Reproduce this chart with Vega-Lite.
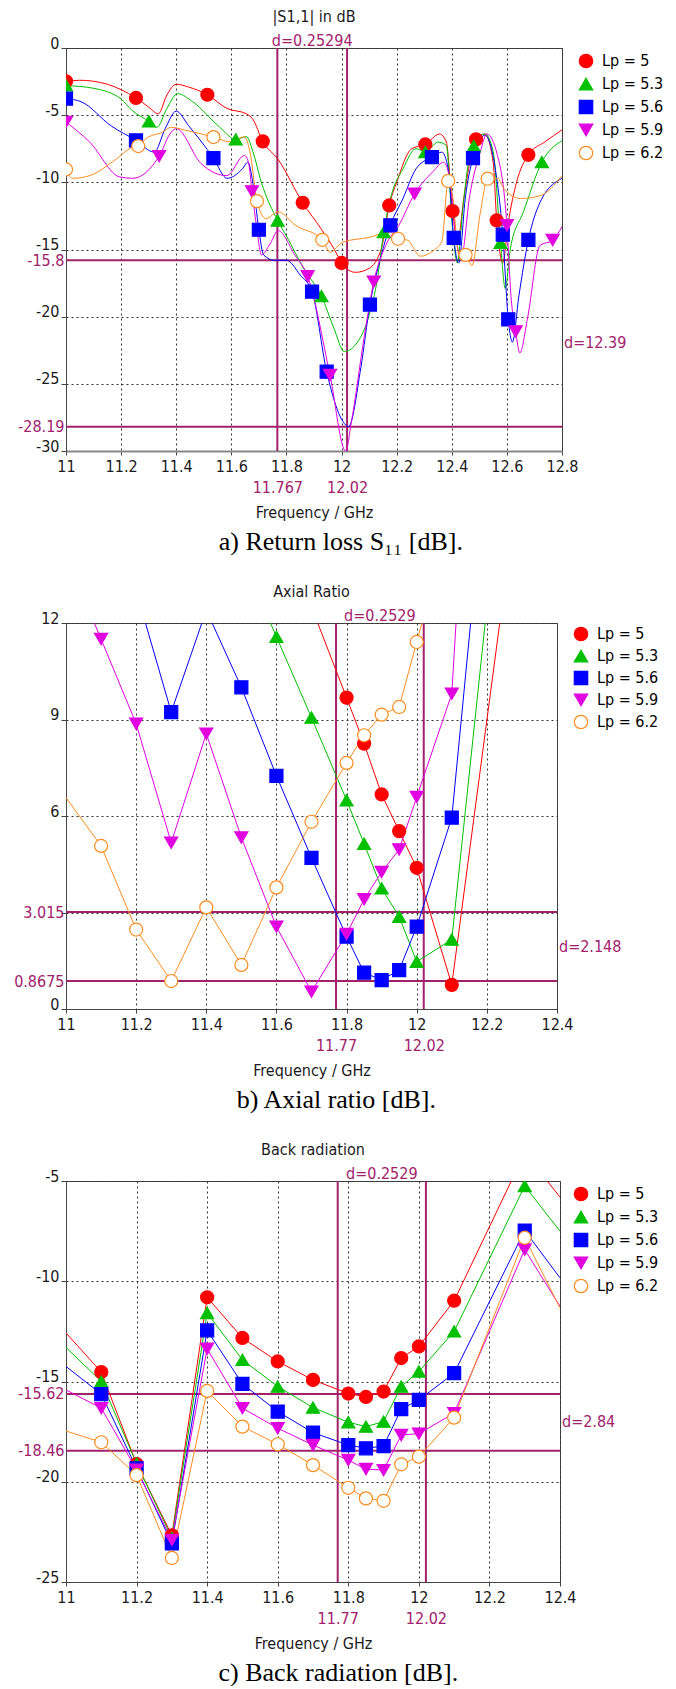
{
"$schema": "https://vega.github.io/schema/vega-lite/v6.json",
"background": "white",
"padding": {"left": 13, "top": 8, "right": 0, "bottom": 0},
"spacing": 28,
"config": {
  "font": "DejaVu Sans Condensed, DejaVu Sans",
  "view": {"stroke": "#444", "strokeWidth": 1},
  "axis": {"labelFont": "DejaVu Sans Condensed, DejaVu Sans", "titleFont": "DejaVu Sans Condensed, DejaVu Sans", "labelFontSize": 16, "titleFontSize": 16, "labelColor": "#1a1a1a", "titleColor": "#1a1a1a", "titleFontWeight": "normal", "tickColor": "#444", "domainColor": "#444", "gridColor": "#333", "gridDash": [2, 3], "gridOpacity": 1, "gridWidth": 1},
  "legend": {"labelFont": "DejaVu Sans Condensed, DejaVu Sans", "labelFontSize": 16},
  "title": {"font": "DejaVu Sans Condensed, DejaVu Sans", "fontSize": 16, "fontWeight": "normal", "color": "#1a1a1a"},
  "text": {"font": "DejaVu Sans Condensed, DejaVu Sans", "fontSize": 16, "color": "#a1216b"}
},
"resolve": {"scale": {"color": "independent", "stroke": "independent", "fill": "independent", "shape": "independent"}},
"datasets": {
  "aL": [
    {"s":"Lp = 5","f":11.0,"v":-2.5},{"s":"Lp = 5","f":11.05,"v":-2.4},{"s":"Lp = 5","f":11.15,"v":-2.7},{"s":"Lp = 5","f":11.2,"v":-3.1},{"s":"Lp = 5","f":11.254,"v":-3.72},{"s":"Lp = 5","f":11.3,"v":-4.4},{"s":"Lp = 5","f":11.335,"v":-4.9},{"s":"Lp = 5","f":11.366,"v":-3.5},{"s":"Lp = 5","f":11.4,"v":-2.7},{"s":"Lp = 5","f":11.444,"v":-2.9},{"s":"Lp = 5","f":11.513,"v":-3.48},{"s":"Lp = 5","f":11.584,"v":-4.5},{"s":"Lp = 5","f":11.655,"v":-4.9},{"s":"Lp = 5","f":11.678,"v":-5.3},{"s":"Lp = 5","f":11.714,"v":-6.95},{"s":"Lp = 5","f":11.77,"v":-8.3},{"s":"Lp = 5","f":11.859,"v":-11.52},{"s":"Lp = 5","f":11.927,"v":-13.5},{"s":"Lp = 5","f":11.974,"v":-15.0},{"s":"Lp = 5","f":12.0,"v":-16.0},{"s":"Lp = 5","f":12.05,"v":-16.7},{"s":"Lp = 5","f":12.1,"v":-16.4},{"s":"Lp = 5","f":12.145,"v":-14.9},{"s":"Lp = 5","f":12.173,"v":-11.72},{"s":"Lp = 5","f":12.2,"v":-10.0},{"s":"Lp = 5","f":12.254,"v":-7.5},{"s":"Lp = 5","f":12.304,"v":-7.18},{"s":"Lp = 5","f":12.356,"v":-6.4},{"s":"Lp = 5","f":12.38,"v":-7.0},{"s":"Lp = 5","f":12.403,"v":-12.14},{"s":"Lp = 5","f":12.42,"v":-14.5},{"s":"Lp = 5","f":12.445,"v":-11.0},{"s":"Lp = 5","f":12.488,"v":-6.8},{"s":"Lp = 5","f":12.52,"v":-6.4},{"s":"Lp = 5","f":12.55,"v":-8.5},{"s":"Lp = 5","f":12.563,"v":-12.84},{"s":"Lp = 5","f":12.585,"v":-16.0},{"s":"Lp = 5","f":12.605,"v":-13.0},{"s":"Lp = 5","f":12.635,"v":-10.0},{"s":"Lp = 5","f":12.678,"v":-7.95},{"s":"Lp = 5","f":12.737,"v":-7.0},{"s":"Lp = 5","f":12.8,"v":-6.1},
    {"s":"Lp = 5.3","f":11.0,"v":-2.8},{"s":"Lp = 5.3","f":11.1,"v":-3.0},{"s":"Lp = 5.3","f":11.2,"v":-3.8},{"s":"Lp = 5.3","f":11.24,"v":-4.65},{"s":"Lp = 5.3","f":11.301,"v":-5.46},{"s":"Lp = 5.3","f":11.33,"v":-5.9},{"s":"Lp = 5.3","f":11.366,"v":-4.5},{"s":"Lp = 5.3","f":11.405,"v":-3.4},{"s":"Lp = 5.3","f":11.46,"v":-4.0},{"s":"Lp = 5.3","f":11.553,"v":-5.8},{"s":"Lp = 5.3","f":11.616,"v":-6.8},{"s":"Lp = 5.3","f":11.655,"v":-6.6},{"s":"Lp = 5.3","f":11.678,"v":-7.7},{"s":"Lp = 5.3","f":11.709,"v":-10.0},{"s":"Lp = 5.3","f":11.768,"v":-12.84},{"s":"Lp = 5.3","f":11.8,"v":-14.0},{"s":"Lp = 5.3","f":11.865,"v":-16.5},{"s":"Lp = 5.3","f":11.927,"v":-18.47},{"s":"Lp = 5.3","f":11.973,"v":-20.9},{"s":"Lp = 5.3","f":12.01,"v":-22.6},{"s":"Lp = 5.3","f":12.05,"v":-22.1},{"s":"Lp = 5.3","f":12.1,"v":-19.9},{"s":"Lp = 5.3","f":12.13,"v":-17.2},{"s":"Lp = 5.3","f":12.153,"v":-13.7},{"s":"Lp = 5.3","f":12.18,"v":-11.0},{"s":"Lp = 5.3","f":12.223,"v":-9.0},{"s":"Lp = 5.3","f":12.27,"v":-7.5},{"s":"Lp = 5.3","f":12.304,"v":-7.75},{"s":"Lp = 5.3","f":12.35,"v":-7.0},{"s":"Lp = 5.3","f":12.38,"v":-7.25},{"s":"Lp = 5.3","f":12.403,"v":-13.5},{"s":"Lp = 5.3","f":12.42,"v":-16.0},{"s":"Lp = 5.3","f":12.44,"v":-12.0},{"s":"Lp = 5.3","f":12.457,"v":-9.0},{"s":"Lp = 5.3","f":12.48,"v":-7.3},{"s":"Lp = 5.3","f":12.52,"v":-6.4},{"s":"Lp = 5.3","f":12.55,"v":-7.7},{"s":"Lp = 5.3","f":12.577,"v":-14.5},{"s":"Lp = 5.3","f":12.594,"v":-17.9},{"s":"Lp = 5.3","f":12.613,"v":-14.9},{"s":"Lp = 5.3","f":12.66,"v":-12.2},{"s":"Lp = 5.3","f":12.727,"v":-8.49},{"s":"Lp = 5.3","f":12.8,"v":-6.9},
    {"s":"Lp = 5.6","f":11.0,"v":-3.77},{"s":"Lp = 5.6","f":11.055,"v":-4.0},{"s":"Lp = 5.6","f":11.164,"v":-5.8},{"s":"Lp = 5.6","f":11.254,"v":-6.88},{"s":"Lp = 5.6","f":11.32,"v":-7.75},{"s":"Lp = 5.6","f":11.36,"v":-6.0},{"s":"Lp = 5.6","f":11.4,"v":-4.7},{"s":"Lp = 5.6","f":11.444,"v":-5.76},{"s":"Lp = 5.6","f":11.535,"v":-8.19},{"s":"Lp = 5.6","f":11.584,"v":-9.7},{"s":"Lp = 5.6","f":11.64,"v":-9.0},{"s":"Lp = 5.6","f":11.66,"v":-8.5},{"s":"Lp = 5.6","f":11.678,"v":-10.0},{"s":"Lp = 5.6","f":11.7,"v":-13.53},{"s":"Lp = 5.6","f":11.717,"v":-15.4},{"s":"Lp = 5.6","f":11.756,"v":-15.8},{"s":"Lp = 5.6","f":11.8,"v":-15.8},{"s":"Lp = 5.6","f":11.85,"v":-16.9},{"s":"Lp = 5.6","f":11.893,"v":-18.14},{"s":"Lp = 5.6","f":11.946,"v":-24.1},{"s":"Lp = 5.6","f":12.005,"v":-27.8},{"s":"Lp = 5.6","f":12.025,"v":-28.19},{"s":"Lp = 5.6","f":12.07,"v":-23.8},{"s":"Lp = 5.6","f":12.103,"v":-19.1},{"s":"Lp = 5.6","f":12.138,"v":-15.9},{"s":"Lp = 5.6","f":12.177,"v":-13.2},{"s":"Lp = 5.6","f":12.223,"v":-11.2},{"s":"Lp = 5.6","f":12.27,"v":-9.0},{"s":"Lp = 5.6","f":12.328,"v":-8.12},{"s":"Lp = 5.6","f":12.364,"v":-7.75},{"s":"Lp = 5.6","f":12.387,"v":-9.0},{"s":"Lp = 5.6","f":12.407,"v":-14.13},{"s":"Lp = 5.6","f":12.425,"v":-16.0},{"s":"Lp = 5.6","f":12.45,"v":-11.0},{"s":"Lp = 5.6","f":12.477,"v":-8.19},{"s":"Lp = 5.6","f":12.52,"v":-6.5},{"s":"Lp = 5.6","f":12.558,"v":-9.0},{"s":"Lp = 5.6","f":12.585,"v":-13.9},{"s":"Lp = 5.6","f":12.605,"v":-20.2},{"s":"Lp = 5.6","f":12.62,"v":-21.9},{"s":"Lp = 5.6","f":12.644,"v":-18.4},{"s":"Lp = 5.6","f":12.678,"v":-14.28},{"s":"Lp = 5.6","f":12.72,"v":-11.5},{"s":"Lp = 5.6","f":12.8,"v":-9.7},
    {"s":"Lp = 5.9","f":11.0,"v":-5.51},{"s":"Lp = 5.9","f":11.086,"v":-7.0},{"s":"Lp = 5.9","f":11.195,"v":-9.6},{"s":"Lp = 5.9","f":11.242,"v":-9.7},{"s":"Lp = 5.9","f":11.338,"v":-8.05},{"s":"Lp = 5.9","f":11.382,"v":-6.26},{"s":"Lp = 5.9","f":11.4,"v":-6.0},{"s":"Lp = 5.9","f":11.49,"v":-8.6},{"s":"Lp = 5.9","f":11.584,"v":-9.5},{"s":"Lp = 5.9","f":11.647,"v":-8.0},{"s":"Lp = 5.9","f":11.662,"v":-8.5},{"s":"Lp = 5.9","f":11.675,"v":-10.68},{"s":"Lp = 5.9","f":11.693,"v":-13.5},{"s":"Lp = 5.9","f":11.709,"v":-15.4},{"s":"Lp = 5.9","f":11.74,"v":-14.6},{"s":"Lp = 5.9","f":11.77,"v":-13.6},{"s":"Lp = 5.9","f":11.83,"v":-15.4},{"s":"Lp = 5.9","f":11.877,"v":-17.0},{"s":"Lp = 5.9","f":11.958,"v":-24.35},{"s":"Lp = 5.9","f":12.015,"v":-30.0},{"s":"Lp = 5.9","f":12.036,"v":-27.8},{"s":"Lp = 5.9","f":12.083,"v":-21.4},{"s":"Lp = 5.9","f":12.117,"v":-17.4},{"s":"Lp = 5.9","f":12.16,"v":-14.7},{"s":"Lp = 5.9","f":12.208,"v":-13.2},{"s":"Lp = 5.9","f":12.265,"v":-10.85},{"s":"Lp = 5.9","f":12.332,"v":-9.2},{"s":"Lp = 5.9","f":12.37,"v":-8.5},{"s":"Lp = 5.9","f":12.395,"v":-10.0},{"s":"Lp = 5.9","f":12.418,"v":-14.5},{"s":"Lp = 5.9","f":12.435,"v":-15.5},{"s":"Lp = 5.9","f":12.465,"v":-11.0},{"s":"Lp = 5.9","f":12.504,"v":-7.7},{"s":"Lp = 5.9","f":12.527,"v":-6.4},{"s":"Lp = 5.9","f":12.566,"v":-8.0},{"s":"Lp = 5.9","f":12.6,"v":-13.2},{"s":"Lp = 5.9","f":12.615,"v":-18.5},{"s":"Lp = 5.9","f":12.632,"v":-21.1},{"s":"Lp = 5.9","f":12.647,"v":-22.7},{"s":"Lp = 5.9","f":12.675,"v":-20.1},{"s":"Lp = 5.9","f":12.72,"v":-14.7},{"s":"Lp = 5.9","f":12.766,"v":-14.3},{"s":"Lp = 5.9","f":12.8,"v":-13.3},
    {"s":"Lp = 6.2","f":11.0,"v":-9.04},{"s":"Lp = 6.2","f":11.023,"v":-9.7},{"s":"Lp = 6.2","f":11.086,"v":-9.5},{"s":"Lp = 6.2","f":11.18,"v":-8.3},{"s":"Lp = 6.2","f":11.24,"v":-7.4},{"s":"Lp = 6.2","f":11.262,"v":-7.3},{"s":"Lp = 6.2","f":11.29,"v":-6.75},{"s":"Lp = 6.2","f":11.35,"v":-6.26},{"s":"Lp = 6.2","f":11.382,"v":-5.9},{"s":"Lp = 6.2","f":11.43,"v":-6.1},{"s":"Lp = 6.2","f":11.535,"v":-6.63},{"s":"Lp = 6.2","f":11.6,"v":-7.0},{"s":"Lp = 6.2","f":11.647,"v":-6.6},{"s":"Lp = 6.2","f":11.67,"v":-8.0},{"s":"Lp = 6.2","f":11.693,"v":-11.4},{"s":"Lp = 6.2","f":11.725,"v":-12.7},{"s":"Lp = 6.2","f":11.77,"v":-12.2},{"s":"Lp = 6.2","f":11.833,"v":-13.2},{"s":"Lp = 6.2","f":11.93,"v":-14.28},{"s":"Lp = 6.2","f":11.958,"v":-15.2},{"s":"Lp = 6.2","f":12.005,"v":-14.45},{"s":"Lp = 6.2","f":12.1,"v":-14.1},{"s":"Lp = 6.2","f":12.177,"v":-13.7},{"s":"Lp = 6.2","f":12.205,"v":-14.2},{"s":"Lp = 6.2","f":12.239,"v":-14.3},{"s":"Lp = 6.2","f":12.286,"v":-15.5},{"s":"Lp = 6.2","f":12.332,"v":-15.1},{"s":"Lp = 6.2","f":12.364,"v":-14.4},{"s":"Lp = 6.2","f":12.387,"v":-9.9},{"s":"Lp = 6.2","f":12.403,"v":-11.0},{"s":"Lp = 6.2","f":12.426,"v":-15.4},{"s":"Lp = 6.2","f":12.45,"v":-15.4},{"s":"Lp = 6.2","f":12.473,"v":-16.2},{"s":"Lp = 6.2","f":12.504,"v":-12.2},{"s":"Lp = 6.2","f":12.53,"v":-9.73},{"s":"Lp = 6.2","f":12.566,"v":-9.7},{"s":"Lp = 6.2","f":12.59,"v":-10.5},{"s":"Lp = 6.2","f":12.65,"v":-11.2},{"s":"Lp = 6.2","f":12.72,"v":-11.0},{"s":"Lp = 6.2","f":12.8,"v":-9.5}
  ],
  "aP": [
    {"s":"Lp = 5","f":11.0,"v":-2.48},{"s":"Lp = 5","f":11.254,"v":-3.72},{"s":"Lp = 5","f":11.513,"v":-3.48},{"s":"Lp = 5","f":11.714,"v":-6.95},{"s":"Lp = 5","f":11.859,"v":-11.52},{"s":"Lp = 5","f":12.0,"v":-16.0},{"s":"Lp = 5","f":12.173,"v":-11.72},{"s":"Lp = 5","f":12.304,"v":-7.18},{"s":"Lp = 5","f":12.403,"v":-12.14},{"s":"Lp = 5","f":12.488,"v":-6.8},{"s":"Lp = 5","f":12.563,"v":-12.84},{"s":"Lp = 5","f":12.678,"v":-7.95},
    {"s":"Lp = 5.3","f":11.0,"v":-2.78},{"s":"Lp = 5.3","f":11.301,"v":-5.46},{"s":"Lp = 5.3","f":11.616,"v":-6.8},{"s":"Lp = 5.3","f":11.768,"v":-12.84},{"s":"Lp = 5.3","f":11.927,"v":-18.47},{"s":"Lp = 5.3","f":12.153,"v":-13.7},{"s":"Lp = 5.3","f":12.304,"v":-7.75},{"s":"Lp = 5.3","f":12.48,"v":-7.3},{"s":"Lp = 5.3","f":12.577,"v":-14.5},{"s":"Lp = 5.3","f":12.727,"v":-8.49},
    {"s":"Lp = 5.6","f":11.0,"v":-3.77},{"s":"Lp = 5.6","f":11.254,"v":-6.88},{"s":"Lp = 5.6","f":11.535,"v":-8.19},{"s":"Lp = 5.6","f":11.7,"v":-13.53},{"s":"Lp = 5.6","f":11.893,"v":-18.14},{"s":"Lp = 5.6","f":11.946,"v":-24.1},{"s":"Lp = 5.6","f":12.103,"v":-19.1},{"s":"Lp = 5.6","f":12.177,"v":-13.2},{"s":"Lp = 5.6","f":12.328,"v":-8.12},{"s":"Lp = 5.6","f":12.407,"v":-14.13},{"s":"Lp = 5.6","f":12.477,"v":-8.19},{"s":"Lp = 5.6","f":12.585,"v":-13.9},{"s":"Lp = 5.6","f":12.605,"v":-20.2},{"s":"Lp = 5.6","f":12.678,"v":-14.28},
    {"s":"Lp = 5.9","f":11.0,"v":-5.51},{"s":"Lp = 5.9","f":11.338,"v":-8.05},{"s":"Lp = 5.9","f":11.675,"v":-10.68},{"s":"Lp = 5.9","f":11.877,"v":-17.0},{"s":"Lp = 5.9","f":11.958,"v":-24.35},{"s":"Lp = 5.9","f":12.117,"v":-17.4},{"s":"Lp = 5.9","f":12.265,"v":-10.85},{"s":"Lp = 5.9","f":12.6,"v":-13.2},{"s":"Lp = 5.9","f":12.632,"v":-21.1},{"s":"Lp = 5.9","f":12.766,"v":-14.3},
    {"s":"Lp = 6.2","f":11.0,"v":-9.04},{"s":"Lp = 6.2","f":11.262,"v":-7.3},{"s":"Lp = 6.2","f":11.535,"v":-6.63},{"s":"Lp = 6.2","f":11.693,"v":-11.4},{"s":"Lp = 6.2","f":11.93,"v":-14.28},{"s":"Lp = 6.2","f":12.205,"v":-14.2},{"s":"Lp = 6.2","f":12.387,"v":-9.9},{"s":"Lp = 6.2","f":12.45,"v":-15.4},{"s":"Lp = 6.2","f":12.53,"v":-9.73}
  ],
  "aV": [{"f":11.767},{"f":12.02}],
  "aH": [{"v":-15.8},{"v":-28.19}],
  "aT1": [{"f":11.8935,"v":0,"t":"d=0.25294"}],
  "aT2": [{"f":12.8,"v":-21.995,"t":"d=12.39"}],
  "bD": [
    {"s":"Lp = 5","f":11.7,"v":12.5},{"s":"Lp = 5","f":11.8,"v":9.68},{"s":"Lp = 5","f":11.85,"v":8.25},{"s":"Lp = 5","f":11.9,"v":6.67},{"s":"Lp = 5","f":11.95,"v":5.53},{"s":"Lp = 5","f":12.0,"v":4.39},{"s":"Lp = 5","f":12.1,"v":0.75},{"s":"Lp = 5","f":12.3,"v":17.2},
    {"s":"Lp = 5.3","f":11.5,"v":14.1},{"s":"Lp = 5.3","f":11.6,"v":11.57},{"s":"Lp = 5.3","f":11.7,"v":9.06},{"s":"Lp = 5.3","f":11.8,"v":6.49},{"s":"Lp = 5.3","f":11.85,"v":5.14},{"s":"Lp = 5.3","f":11.9,"v":3.75},{"s":"Lp = 5.3","f":11.95,"v":2.87},{"s":"Lp = 5.3","f":12.0,"v":1.47},{"s":"Lp = 5.3","f":12.1,"v":2.16},{"s":"Lp = 5.3","f":12.2,"v":12.5},
    {"s":"Lp = 5.6","f":11.2,"v":13.0},{"s":"Lp = 5.6","f":11.3,"v":9.23},{"s":"Lp = 5.6","f":11.4,"v":12.4},{"s":"Lp = 5.6","f":11.5,"v":10.0},{"s":"Lp = 5.6","f":11.6,"v":7.25},{"s":"Lp = 5.6","f":11.7,"v":4.7},{"s":"Lp = 5.6","f":11.8,"v":2.25},{"s":"Lp = 5.6","f":11.85,"v":1.13},{"s":"Lp = 5.6","f":11.9,"v":0.9},{"s":"Lp = 5.6","f":11.95,"v":1.21},{"s":"Lp = 5.6","f":12.0,"v":2.56},{"s":"Lp = 5.6","f":12.1,"v":5.95},{"s":"Lp = 5.6","f":12.2,"v":17.2},
    {"s":"Lp = 5.9","f":11.0,"v":14.1},{"s":"Lp = 5.9","f":11.1,"v":11.5},{"s":"Lp = 5.9","f":11.2,"v":8.87},{"s":"Lp = 5.9","f":11.3,"v":5.17},{"s":"Lp = 5.9","f":11.4,"v":8.56},{"s":"Lp = 5.9","f":11.5,"v":5.33},{"s":"Lp = 5.9","f":11.6,"v":2.56},{"s":"Lp = 5.9","f":11.7,"v":0.54},{"s":"Lp = 5.9","f":11.8,"v":2.33},{"s":"Lp = 5.9","f":11.85,"v":3.41},{"s":"Lp = 5.9","f":11.9,"v":4.26},{"s":"Lp = 5.9","f":11.95,"v":4.96},{"s":"Lp = 5.9","f":12.0,"v":6.59},{"s":"Lp = 5.9","f":12.1,"v":9.8},{"s":"Lp = 5.9","f":12.2,"v":28.0},
    {"s":"Lp = 6.2","f":11.0,"v":6.57},{"s":"Lp = 6.2","f":11.1,"v":5.07},{"s":"Lp = 6.2","f":11.2,"v":2.47},{"s":"Lp = 6.2","f":11.3,"v":0.87},{"s":"Lp = 6.2","f":11.4,"v":3.16},{"s":"Lp = 6.2","f":11.5,"v":1.37},{"s":"Lp = 6.2","f":11.6,"v":3.78},{"s":"Lp = 6.2","f":11.7,"v":5.82},{"s":"Lp = 6.2","f":11.8,"v":7.65},{"s":"Lp = 6.2","f":11.85,"v":8.51},{"s":"Lp = 6.2","f":11.9,"v":9.15},{"s":"Lp = 6.2","f":11.95,"v":9.39},{"s":"Lp = 6.2","f":12.0,"v":11.41},{"s":"Lp = 6.2","f":12.1,"v":15.4}
  ],
  "bV": [{"f":11.77},{"f":12.02}],
  "bH": [{"v":3.015},{"v":0.8675}],
  "bT1": [{"f":11.895,"v":12,"t":"d=0.2529"}],
  "bT2": [{"f":12.4,"v":1.941,"t":"d=2.148"}],
  "cD": [
    {"s":"Lp = 5","f":11.0,"v":-12.58},{"s":"Lp = 5","f":11.1,"v":-14.53},{"s":"Lp = 5","f":11.2,"v":-19.12},{"s":"Lp = 5","f":11.3,"v":-22.67},{"s":"Lp = 5","f":11.4,"v":-10.8},{"s":"Lp = 5","f":11.5,"v":-12.83},{"s":"Lp = 5","f":11.6,"v":-14.0},{"s":"Lp = 5","f":11.7,"v":-14.92},{"s":"Lp = 5","f":11.8,"v":-15.6},{"s":"Lp = 5","f":11.85,"v":-15.77},{"s":"Lp = 5","f":11.9,"v":-15.5},{"s":"Lp = 5","f":11.95,"v":-13.83},{"s":"Lp = 5","f":12.0,"v":-13.25},{"s":"Lp = 5","f":12.1,"v":-10.97},{"s":"Lp = 5","f":12.3,"v":-3.6},{"s":"Lp = 5","f":12.4,"v":-5.8},
    {"s":"Lp = 5.3","f":11.0,"v":-13.3},{"s":"Lp = 5.3","f":11.1,"v":-15.0},{"s":"Lp = 5.3","f":11.2,"v":-19.1},{"s":"Lp = 5.3","f":11.3,"v":-22.8},{"s":"Lp = 5.3","f":11.4,"v":-11.58},{"s":"Lp = 5.3","f":11.5,"v":-13.92},{"s":"Lp = 5.3","f":11.6,"v":-15.25},{"s":"Lp = 5.3","f":11.7,"v":-16.3},{"s":"Lp = 5.3","f":11.8,"v":-17.03},{"s":"Lp = 5.3","f":11.85,"v":-17.25},{"s":"Lp = 5.3","f":11.9,"v":-17.0},{"s":"Lp = 5.3","f":11.95,"v":-15.25},{"s":"Lp = 5.3","f":12.0,"v":-14.5},{"s":"Lp = 5.3","f":12.1,"v":-12.5},{"s":"Lp = 5.3","f":12.3,"v":-5.25},{"s":"Lp = 5.3","f":12.4,"v":-7.5},
    {"s":"Lp = 5.6","f":11.0,"v":-14.25},{"s":"Lp = 5.6","f":11.1,"v":-15.63},{"s":"Lp = 5.6","f":11.2,"v":-19.33},{"s":"Lp = 5.6","f":11.3,"v":-23.08},{"s":"Lp = 5.6","f":11.4,"v":-12.45},{"s":"Lp = 5.6","f":11.5,"v":-15.12},{"s":"Lp = 5.6","f":11.6,"v":-16.5},{"s":"Lp = 5.6","f":11.7,"v":-17.55},{"s":"Lp = 5.6","f":11.8,"v":-18.17},{"s":"Lp = 5.6","f":11.85,"v":-18.33},{"s":"Lp = 5.6","f":11.9,"v":-18.22},{"s":"Lp = 5.6","f":11.95,"v":-16.38},{"s":"Lp = 5.6","f":12.0,"v":-15.92},{"s":"Lp = 5.6","f":12.1,"v":-14.58},{"s":"Lp = 5.6","f":12.3,"v":-7.47},{"s":"Lp = 5.6","f":12.4,"v":-9.83},
    {"s":"Lp = 5.9","f":11.0,"v":-15.42},{"s":"Lp = 5.9","f":11.1,"v":-16.33},{"s":"Lp = 5.9","f":11.2,"v":-19.4},{"s":"Lp = 5.9","f":11.3,"v":-22.9},{"s":"Lp = 5.9","f":11.4,"v":-13.37},{"s":"Lp = 5.9","f":11.5,"v":-16.33},{"s":"Lp = 5.9","f":11.6,"v":-17.33},{"s":"Lp = 5.9","f":11.7,"v":-18.17},{"s":"Lp = 5.9","f":11.8,"v":-18.92},{"s":"Lp = 5.9","f":11.85,"v":-19.37},{"s":"Lp = 5.9","f":11.9,"v":-19.42},{"s":"Lp = 5.9","f":11.95,"v":-17.67},{"s":"Lp = 5.9","f":12.0,"v":-17.6},{"s":"Lp = 5.9","f":12.1,"v":-16.58},{"s":"Lp = 5.9","f":12.3,"v":-8.42},{"s":"Lp = 5.9","f":12.4,"v":-11.25},
    {"s":"Lp = 6.2","f":11.0,"v":-17.47},{"s":"Lp = 6.2","f":11.1,"v":-18.03},{"s":"Lp = 6.2","f":11.2,"v":-19.67},{"s":"Lp = 6.2","f":11.3,"v":-23.8},{"s":"Lp = 6.2","f":11.4,"v":-15.47},{"s":"Lp = 6.2","f":11.5,"v":-17.25},{"s":"Lp = 6.2","f":11.6,"v":-18.13},{"s":"Lp = 6.2","f":11.7,"v":-19.17},{"s":"Lp = 6.2","f":11.8,"v":-20.3},{"s":"Lp = 6.2","f":11.85,"v":-20.83},{"s":"Lp = 6.2","f":11.9,"v":-20.95},{"s":"Lp = 6.2","f":11.95,"v":-19.13},{"s":"Lp = 6.2","f":12.0,"v":-18.75},{"s":"Lp = 6.2","f":12.1,"v":-16.8},{"s":"Lp = 6.2","f":12.3,"v":-7.83},{"s":"Lp = 6.2","f":12.4,"v":-11.33}
  ],
  "cV": [{"f":11.77},{"f":12.02}],
  "cH": [{"v":-15.62},{"v":-18.46}],
  "cT1": [{"f":11.895,"v":-5,"t":"d=0.2529"}],
  "cT2": [{"f":12.4,"v":-17.04,"t":"d=2.84"}]
},
"vconcat": [
 {
  "title": {"text": "a) Return loss S₁₁ [dB].", "orient": "bottom", "anchor": "middle", "frame": "bounds", "font": "Liberation Serif", "fontSize": 26, "offset": 8, "color": "#000"},
  "resolve": {"scale": {"color": "independent", "stroke": "independent", "fill": "independent", "shape": "independent"}},
  "vconcat": [{
   "width": 496, "height": 403,
   "title": {"text": "|S1,1| in dB", "anchor": "middle", "frame": "group", "offset": 8},
   "resolve": {"axis": {"x": "independent", "y": "independent"}},
   "layer": [
    {"data": {"name": "aV"}, "mark": {"type": "rule", "color": "#a1216b", "strokeWidth": 2},
     "encoding": {"x": {"field": "f", "type": "quantitative", "scale": {"domain": [11, 12.8], "nice": false, "zero": false},
       "axis": {"orient": "bottom", "values": [11.767, 12.02], "labelExpr": "'' + datum.value", "ticks": false, "tickSize": 0, "domain": false, "grid": false, "labelColor": "#a1216b", "labelPadding": 28, "title": null, "labelOverlap": false, "labelFlush": false}}}},
    {"data": {"name": "aH"}, "mark": {"type": "rule", "color": "#a1216b", "strokeWidth": 2},
     "encoding": {"y": {"field": "v", "type": "quantitative", "scale": {"domain": [-30, 0], "nice": false, "zero": false},
       "axis": {"orient": "left", "values": [-15.8, -28.19], "labelExpr": "'' + datum.value", "ticks": false, "tickSize": 0, "domain": false, "grid": false, "labelColor": "#a1216b", "labelPadding": 2, "labelBaseline": "middle", "title": null, "labelOverlap": false, "labelFlush": false}}}},
    {"data": {"name": "aL"}, "mark": {"type": "line", "strokeWidth": 1, "clip": true, "interpolate": "monotone"},
     "encoding": {
       "x": {"field": "f", "type": "quantitative", "axis": {"orient": "bottom", "values": [11, 11.2, 11.4, 11.6, 11.8, 12, 12.2, 12.4, 12.6, 12.8], "labelExpr": "'' + datum.value", "tickSize": 4, "labelPadding": 3, "title": "Frequency / GHz", "titlePadding": 30, "grid": true, "labelFlush": false, "labelOverlap": false, "domainColor": "#888", "domainWidth": 2}},
       "y": {"field": "v", "type": "quantitative", "axis": {"orient": "left", "values": [0, -5, -10, -15, -20, -25, -30], "labelExpr": "'' + datum.value", "tickSize": 5, "labelPadding": 2, "labelBaseline": "alphabetic", "title": null, "grid": true, "labelOverlap": false, "labelFlush": false}},
       "color": {"field": "s", "type": "nominal", "scale": {"range": ["#ff0000", "#00c000", "#0000ff", "#e000e0", "#ff8c1e"]}, "legend": null}
     }},
    {"data": {"name": "aP"}, "mark": {"type": "point", "filled": true, "opacity": 1, "size": 170, "strokeWidth": 1.2, "clip": true},
     "encoding": {
       "x": {"field": "f", "type": "quantitative", "axis": null},
       "y": {"field": "v", "type": "quantitative", "axis": null},
       "stroke": {"field": "s", "type": "nominal", "scale": {"domain": ["Lp = 5", "Lp = 5.3", "Lp = 5.6", "Lp = 5.9", "Lp = 6.2"], "range": ["#ff0000", "#00c000", "#0000ff", "#e000e0", "#ff8c1e"]},
         "legend": {"title": null, "orient": "none", "legendX": 512, "legendY": 5, "symbolSize": 180, "symbolStrokeWidth": 1.2, "labelOffset": 8, "rowPadding": 4, "padding": 0, "encode": {"labels": {"update": {"fill": {"signal": "datum.label === 'Lp = 5' ? '#ff0000' : datum.label === 'Lp = 5.3' ? '#00c000' : datum.label === 'Lp = 5.6' ? '#0000ff' : datum.label === 'Lp = 5.9' ? '#e000e0' : '#ff8c1e'"}}}}}},
       "fill": {"field": "s", "type": "nominal", "scale": {"domain": ["Lp = 5", "Lp = 5.3", "Lp = 5.6", "Lp = 5.9", "Lp = 6.2"], "range": ["#ff0000", "#00c000", "#0000ff", "#e000e0", "#ffffff"]},
         "legend": {"title": null, "orient": "none", "legendX": 512, "legendY": 5, "symbolSize": 180, "symbolStrokeWidth": 1.2, "labelOffset": 8, "rowPadding": 4, "padding": 0, "encode": {"labels": {"update": {"fill": {"signal": "datum.label === 'Lp = 5' ? '#ff0000' : datum.label === 'Lp = 5.3' ? '#00c000' : datum.label === 'Lp = 5.6' ? '#0000ff' : datum.label === 'Lp = 5.9' ? '#e000e0' : '#ff8c1e'"}}}}}},
       "shape": {"field": "s", "type": "nominal", "scale": {"domain": ["Lp = 5", "Lp = 5.3", "Lp = 5.6", "Lp = 5.9", "Lp = 6.2"], "range": ["circle", "triangle-up", "square", "triangle-down", "circle"]},
         "legend": {"title": null, "orient": "none", "legendX": 512, "legendY": 5, "symbolSize": 180, "symbolStrokeWidth": 1.2, "labelOffset": 8, "rowPadding": 4, "padding": 0, "encode": {"labels": {"update": {"fill": {"signal": "datum.label === 'Lp = 5' ? '#ff0000' : datum.label === 'Lp = 5.3' ? '#00c000' : datum.label === 'Lp = 5.6' ? '#0000ff' : datum.label === 'Lp = 5.9' ? '#e000e0' : '#ff8c1e'"}}}}}}
     }},
    {"data": {"name": "aT1"}, "mark": {"type": "text", "align": "center", "baseline": "alphabetic", "dy": -2},
     "encoding": {"x": {"field": "f", "type": "quantitative", "axis": null}, "y": {"field": "v", "type": "quantitative", "axis": null}, "text": {"field": "t"}}},
    {"data": {"name": "aT2"}, "mark": {"type": "text", "align": "left", "baseline": "middle", "dx": 2},
     "encoding": {"x": {"field": "f", "type": "quantitative", "axis": null}, "y": {"field": "v", "type": "quantitative", "axis": null}, "text": {"field": "t"}}}
   ]
  }]
 },
 {
  "title": {"text": "b) Axial ratio [dB].", "orient": "bottom", "anchor": "middle", "frame": "bounds", "font": "Liberation Serif", "fontSize": 26, "offset": 8, "color": "#000"},
  "resolve": {"scale": {"color": "independent", "stroke": "independent", "fill": "independent", "shape": "independent"}},
  "vconcat": [{
   "width": 491, "height": 386,
   "title": {"text": "Axial Ratio", "anchor": "middle", "frame": "group", "offset": 8},
   "resolve": {"axis": {"x": "independent", "y": "independent"}},
   "layer": [
    {"data": {"name": "bV"}, "mark": {"type": "rule", "color": "#a1216b", "strokeWidth": 2},
     "encoding": {"x": {"field": "f", "type": "quantitative", "scale": {"domain": [11, 12.4], "nice": false, "zero": false},
       "axis": {"orient": "bottom", "values": [11.77, 12.02], "labelExpr": "'' + datum.value", "ticks": false, "tickSize": 0, "domain": false, "grid": false, "labelColor": "#a1216b", "labelPadding": 28, "title": null, "labelOverlap": false, "labelFlush": false}}}},
    {"data": {"name": "bH"}, "mark": {"type": "rule", "color": "#a1216b", "strokeWidth": 2},
     "encoding": {"y": {"field": "v", "type": "quantitative", "scale": {"domain": [0, 12], "nice": false, "zero": false},
       "axis": {"orient": "left", "values": [3.015, 0.8675], "labelExpr": "'' + datum.value", "ticks": false, "tickSize": 0, "domain": false, "grid": false, "labelColor": "#a1216b", "labelPadding": 2, "labelBaseline": "middle", "title": null, "labelOverlap": false, "labelFlush": false}}}},
    {"data": {"name": "bD"}, "mark": {"type": "line", "strokeWidth": 1, "clip": true},
     "encoding": {
       "x": {"field": "f", "type": "quantitative", "axis": {"orient": "bottom", "values": [11, 11.2, 11.4, 11.6, 11.8, 12, 12.2, 12.4], "labelExpr": "'' + datum.value", "tickSize": 4, "labelPadding": 3, "title": "Frequency / GHz", "titlePadding": 30, "grid": true, "labelFlush": false, "labelOverlap": false}},
       "y": {"field": "v", "type": "quantitative", "axis": {"orient": "left", "values": [0, 3, 6, 9, 12], "labelExpr": "datum.value == 3 ? '' : '' + datum.value", "tickSize": 5, "labelPadding": 2, "labelBaseline": "alphabetic", "title": null, "grid": true, "labelOverlap": false, "labelFlush": false}},
       "color": {"field": "s", "type": "nominal", "scale": {"range": ["#ff0000", "#00c000", "#0000ff", "#e000e0", "#ff8c1e"]}, "legend": null}
     }},
    {"data": {"name": "bD"}, "transform": [{"filter": "datum.f > 11.05 && datum.f < 12.35 && datum.v <= 12 && datum.v >= 0"}],
     "mark": {"type": "point", "filled": true, "opacity": 1, "size": 170, "strokeWidth": 1.2, "clip": true},
     "encoding": {
       "x": {"field": "f", "type": "quantitative", "axis": null},
       "y": {"field": "v", "type": "quantitative", "axis": null},
       "stroke": {"field": "s", "type": "nominal", "scale": {"domain": ["Lp = 5", "Lp = 5.3", "Lp = 5.6", "Lp = 5.9", "Lp = 6.2"], "range": ["#ff0000", "#00c000", "#0000ff", "#e000e0", "#ff8c1e"]},
         "legend": {"title": null, "orient": "none", "legendX": 507, "legendY": 3, "symbolSize": 180, "symbolStrokeWidth": 1.2, "labelOffset": 8, "rowPadding": 3, "padding": 0, "encode": {"labels": {"update": {"fill": {"signal": "datum.label === 'Lp = 5' ? '#ff0000' : datum.label === 'Lp = 5.3' ? '#00c000' : datum.label === 'Lp = 5.6' ? '#0000ff' : datum.label === 'Lp = 5.9' ? '#e000e0' : '#ff8c1e'"}}}}}},
       "fill": {"field": "s", "type": "nominal", "scale": {"domain": ["Lp = 5", "Lp = 5.3", "Lp = 5.6", "Lp = 5.9", "Lp = 6.2"], "range": ["#ff0000", "#00c000", "#0000ff", "#e000e0", "#ffffff"]},
         "legend": {"title": null, "orient": "none", "legendX": 507, "legendY": 3, "symbolSize": 180, "symbolStrokeWidth": 1.2, "labelOffset": 8, "rowPadding": 3, "padding": 0, "encode": {"labels": {"update": {"fill": {"signal": "datum.label === 'Lp = 5' ? '#ff0000' : datum.label === 'Lp = 5.3' ? '#00c000' : datum.label === 'Lp = 5.6' ? '#0000ff' : datum.label === 'Lp = 5.9' ? '#e000e0' : '#ff8c1e'"}}}}}},
       "shape": {"field": "s", "type": "nominal", "scale": {"domain": ["Lp = 5", "Lp = 5.3", "Lp = 5.6", "Lp = 5.9", "Lp = 6.2"], "range": ["circle", "triangle-up", "square", "triangle-down", "circle"]},
         "legend": {"title": null, "orient": "none", "legendX": 507, "legendY": 3, "symbolSize": 180, "symbolStrokeWidth": 1.2, "labelOffset": 8, "rowPadding": 3, "padding": 0, "encode": {"labels": {"update": {"fill": {"signal": "datum.label === 'Lp = 5' ? '#ff0000' : datum.label === 'Lp = 5.3' ? '#00c000' : datum.label === 'Lp = 5.6' ? '#0000ff' : datum.label === 'Lp = 5.9' ? '#e000e0' : '#ff8c1e'"}}}}}}
     }},
    {"data": {"name": "bT1"}, "mark": {"type": "text", "align": "center", "baseline": "alphabetic", "dy": -2},
     "encoding": {"x": {"field": "f", "type": "quantitative", "axis": null}, "y": {"field": "v", "type": "quantitative", "axis": null}, "text": {"field": "t"}}},
    {"data": {"name": "bT2"}, "mark": {"type": "text", "align": "left", "baseline": "middle", "dx": 2},
     "encoding": {"x": {"field": "f", "type": "quantitative", "axis": null}, "y": {"field": "v", "type": "quantitative", "axis": null}, "text": {"field": "t"}}}
   ]
  }]
 },
 {
  "title": {"text": "c) Back radiation [dB].", "orient": "bottom", "anchor": "middle", "frame": "bounds", "font": "Liberation Serif", "fontSize": 26, "offset": 8, "color": "#000"},
  "resolve": {"scale": {"color": "independent", "stroke": "independent", "fill": "independent", "shape": "independent"}},
  "vconcat": [{
   "width": 494, "height": 401,
   "title": {"text": "Back radiation", "anchor": "middle", "frame": "group", "offset": 8},
   "resolve": {"axis": {"x": "independent", "y": "independent"}},
   "layer": [
    {"data": {"name": "cV"}, "mark": {"type": "rule", "color": "#a1216b", "strokeWidth": 2},
     "encoding": {"x": {"field": "f", "type": "quantitative", "scale": {"domain": [11, 12.4], "nice": false, "zero": false},
       "axis": {"orient": "bottom", "values": [11.77, 12.02], "labelExpr": "'' + datum.value", "ticks": false, "tickSize": 0, "domain": false, "grid": false, "labelColor": "#a1216b", "labelPadding": 28, "title": null, "labelOverlap": false, "labelFlush": false}}}},
    {"data": {"name": "cH"}, "mark": {"type": "rule", "color": "#a1216b", "strokeWidth": 2},
     "encoding": {"y": {"field": "v", "type": "quantitative", "scale": {"domain": [-25, -5], "nice": false, "zero": false},
       "axis": {"orient": "left", "values": [-15.62, -18.46], "labelExpr": "'' + datum.value", "ticks": false, "tickSize": 0, "domain": false, "grid": false, "labelColor": "#a1216b", "labelPadding": 2, "labelBaseline": "middle", "title": null, "labelOverlap": false, "labelFlush": false}}}},
    {"data": {"name": "cD"}, "mark": {"type": "line", "strokeWidth": 1, "clip": true},
     "encoding": {
       "x": {"field": "f", "type": "quantitative", "axis": {"orient": "bottom", "values": [11, 11.2, 11.4, 11.6, 11.8, 12, 12.2, 12.4], "labelExpr": "'' + datum.value", "tickSize": 4, "labelPadding": 3, "title": "Frequency / GHz", "titlePadding": 30, "grid": true, "labelFlush": false, "labelOverlap": false}},
       "y": {"field": "v", "type": "quantitative", "axis": {"orient": "left", "values": [-5, -10, -15, -20, -25], "labelExpr": "'' + datum.value", "tickSize": 5, "labelPadding": 2, "labelBaseline": "alphabetic", "title": null, "grid": true, "labelOverlap": false, "labelFlush": false}},
       "color": {"field": "s", "type": "nominal", "scale": {"range": ["#ff0000", "#00c000", "#0000ff", "#e000e0", "#ff8c1e"]}, "legend": null}
     }},
    {"data": {"name": "cD"}, "transform": [{"filter": "datum.f > 11.05 && datum.f < 12.35 && datum.v <= -5 && datum.v >= -25"}],
     "mark": {"type": "point", "filled": true, "opacity": 1, "size": 170, "strokeWidth": 1.2, "clip": true},
     "encoding": {
       "x": {"field": "f", "type": "quantitative", "axis": null},
       "y": {"field": "v", "type": "quantitative", "axis": null},
       "stroke": {"field": "s", "type": "nominal", "scale": {"domain": ["Lp = 5", "Lp = 5.3", "Lp = 5.6", "Lp = 5.9", "Lp = 6.2"], "range": ["#ff0000", "#00c000", "#0000ff", "#e000e0", "#ff8c1e"]},
         "legend": {"title": null, "orient": "none", "legendX": 507, "legendY": 5, "symbolSize": 180, "symbolStrokeWidth": 1.2, "labelOffset": 8, "rowPadding": 4, "padding": 0, "encode": {"labels": {"update": {"fill": {"signal": "datum.label === 'Lp = 5' ? '#ff0000' : datum.label === 'Lp = 5.3' ? '#00c000' : datum.label === 'Lp = 5.6' ? '#0000ff' : datum.label === 'Lp = 5.9' ? '#e000e0' : '#ff8c1e'"}}}}}},
       "fill": {"field": "s", "type": "nominal", "scale": {"domain": ["Lp = 5", "Lp = 5.3", "Lp = 5.6", "Lp = 5.9", "Lp = 6.2"], "range": ["#ff0000", "#00c000", "#0000ff", "#e000e0", "#ffffff"]},
         "legend": {"title": null, "orient": "none", "legendX": 507, "legendY": 5, "symbolSize": 180, "symbolStrokeWidth": 1.2, "labelOffset": 8, "rowPadding": 4, "padding": 0, "encode": {"labels": {"update": {"fill": {"signal": "datum.label === 'Lp = 5' ? '#ff0000' : datum.label === 'Lp = 5.3' ? '#00c000' : datum.label === 'Lp = 5.6' ? '#0000ff' : datum.label === 'Lp = 5.9' ? '#e000e0' : '#ff8c1e'"}}}}}},
       "shape": {"field": "s", "type": "nominal", "scale": {"domain": ["Lp = 5", "Lp = 5.3", "Lp = 5.6", "Lp = 5.9", "Lp = 6.2"], "range": ["circle", "triangle-up", "square", "triangle-down", "circle"]},
         "legend": {"title": null, "orient": "none", "legendX": 507, "legendY": 5, "symbolSize": 180, "symbolStrokeWidth": 1.2, "labelOffset": 8, "rowPadding": 4, "padding": 0, "encode": {"labels": {"update": {"fill": {"signal": "datum.label === 'Lp = 5' ? '#ff0000' : datum.label === 'Lp = 5.3' ? '#00c000' : datum.label === 'Lp = 5.6' ? '#0000ff' : datum.label === 'Lp = 5.9' ? '#e000e0' : '#ff8c1e'"}}}}}}
     }},
    {"data": {"name": "cT1"}, "mark": {"type": "text", "align": "center", "baseline": "alphabetic", "dy": -2},
     "encoding": {"x": {"field": "f", "type": "quantitative", "axis": null}, "y": {"field": "v", "type": "quantitative", "axis": null}, "text": {"field": "t"}}},
    {"data": {"name": "cT2"}, "mark": {"type": "text", "align": "left", "baseline": "middle", "dx": 2},
     "encoding": {"x": {"field": "f", "type": "quantitative", "axis": null}, "y": {"field": "v", "type": "quantitative", "axis": null}, "text": {"field": "t"}}}
   ]
  }]
 }
]
}
